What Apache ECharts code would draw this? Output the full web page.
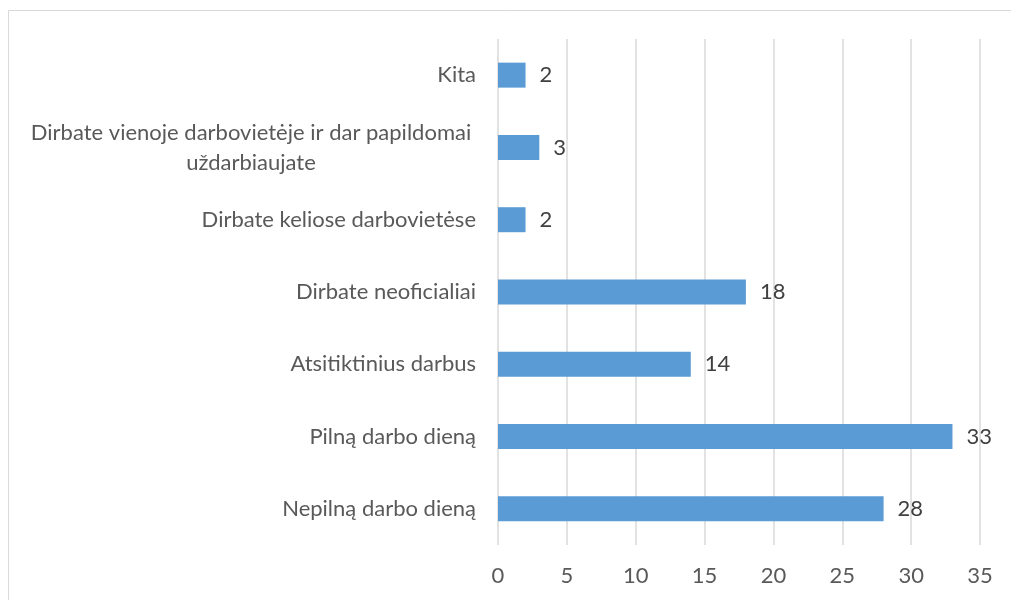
<!DOCTYPE html>
<html>
<head>
<meta charset="utf-8">
<script src="https://cdn.jsdelivr.net/npm/echarts@6/dist/echarts.min.js"></script>
<style>
  html, body { margin: 0; padding: 0; background: #fff; }
  #chart { width: 1011px; height: 600px; }
</style>
</head>
<body>
<div id="chart"></div>
<script>
// categories, bottom to top (as the category axis draws them)
var categories = [
  'Nepilną darbo dieną',
  'Pilną darbo dieną',
  'Atsitiktinius darbus',
  'Dirbate neoficialiai',
  'Dirbate keliose darbovietėse',
  'Dirbate vienoje darbovietėje ir dar papildomai\nuždarbiaujate',
  'Kita'
];
var values = [28, 33, 14, 18, 2, 3, 2];
var xTicks = [0, 35, 5]; // min, max, interval

var myChart = echarts.init(document.getElementById('chart'));

var option = {
  animation: false,
  textStyle: { fontFamily: 'Lato' },
  graphic: [{
    type: 'rect',
    shape: { x: 8.5, y: 10.5, width: 1010, height: 600 },
    style: { fill: 'none', stroke: '#d9d9d9', lineWidth: 1 },
    silent: true
  }],
  grid: { left: 498, right: 31, top: 39, bottom: 55, containLabel: false },
  xAxis: {
    type: 'value',
    min: xTicks[0],
    max: xTicks[1],
    interval: xTicks[2],
    axisLine: { show: false },
    axisTick: { show: false },
    splitLine: { lineStyle: { color: '#d9d9d9', width: 1.5 } },
    axisLabel: { color: '#595959', fontSize: 22, margin: 20 }
  },
  yAxis: {
    type: 'category',
    data: categories,
    axisLine: { show: false },
    axisTick: { show: false },
    axisLabel: {
      color: '#595959',
      fontSize: 22,
      margin: 22,
      lineHeight: 30,
      formatter: function (v) {
        if (v.indexOf('\n') >= 0) {
          return v.split('\n').map(function (s) { return '{w|' + s + '}'; }).join('\n');
        }
        return v;
      },
      rich: {
        w: { width: 450, align: 'center', color: '#595959', fontSize: 22, lineHeight: 30, fontFamily: 'Lato' }
      }
    }
  },
  series: [{
    type: 'bar',
    data: values,
    barWidth: 25,
    itemStyle: { color: '#5b9bd5' },
    label: {
      show: true,
      position: 'right',
      distance: 14,
      color: '#404040',
      fontSize: 22
    }
  }]
};

myChart.setOption(option);
</script>
</body>
</html>
